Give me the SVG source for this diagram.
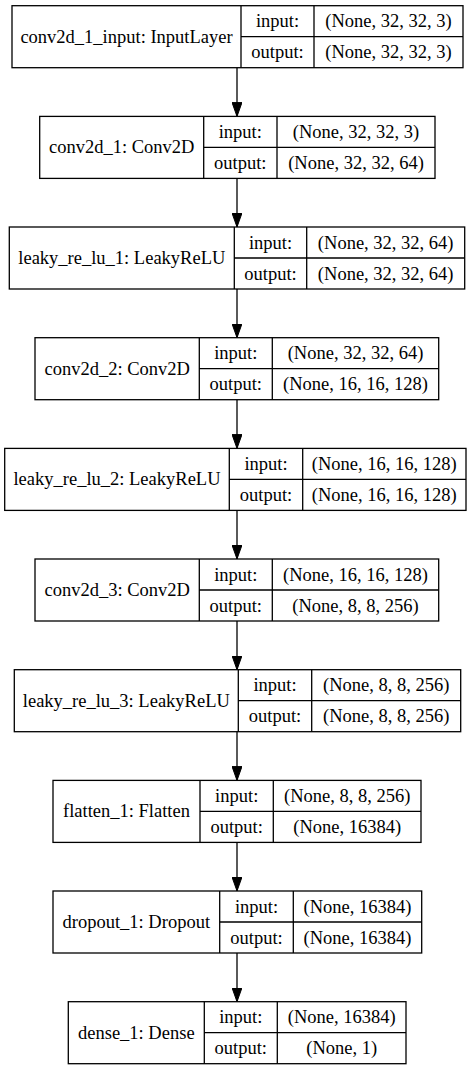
<svg xmlns="http://www.w3.org/2000/svg" width="475" height="1069" viewBox="0 0 475 1069">
  <style>
    .box { fill: #ffffff; stroke: #000000; stroke-width: 1.3; }
    .sep { stroke: #000000; stroke-width: 1.3; fill: none; }
    .lbl { font-size: 18.5px; fill: #000000; text-anchor: middle; }
    .edge { stroke: #000000; stroke-width: 1.3; fill: none; marker-end: url(#arrow); }
  </style>
  <defs>
    <marker id="arrow" viewBox="0 0 14 10" refX="14" refY="5" markerWidth="14" markerHeight="10" markerUnits="userSpaceOnUse" orient="auto">
      <path d="M0,0 L14,5 L0,10 Z" fill="#000000" stroke="#000000" stroke-width="1"/>
    </marker>
  </defs>
  <rect width="475" height="1069" fill="#ffffff"/>

  <!-- connectors -->
  <g id="edges">
    <line class="edge" x1="237" y1="67.7" x2="237" y2="116.4"/>
    <line class="edge" x1="237" y1="178.4" x2="237" y2="227"/>
    <line class="edge" x1="237" y1="289" x2="237" y2="337.7"/>
    <line class="edge" x1="237" y1="399.7" x2="237" y2="448.4"/>
    <line class="edge" x1="237" y1="510.4" x2="237" y2="559"/>
    <line class="edge" x1="237" y1="621" x2="237" y2="669.7"/>
    <line class="edge" x1="237" y1="731.7" x2="237" y2="780.4"/>
    <line class="edge" x1="237" y1="842.4" x2="237" y2="891"/>
    <line class="edge" x1="237" y1="953" x2="237" y2="1001.7"/>
  </g>

  <!-- layer nodes: name | input/output | shapes -->
  <g id="nodes" style="font-family: 'Liberation Serif', serif">
  <g id="conv2d_1_input">
    <rect class="box" x="12" y="5.7" width="451" height="62"/>
    <path class="sep" d="M241,5.7 V67.7 M314,5.7 V67.7 M241,36.7 H463"/>
    <text class="lbl" x="126.5" y="42.7">conv2d_1_input: InputLayer</text>
    <text class="lbl" x="277.5" y="27.2">input:</text>
    <text class="lbl" x="277.5" y="58.2">output:</text>
    <text class="lbl" x="388.5" y="27.2">(None, 32, 32, 3)</text>
    <text class="lbl" x="388.5" y="58.2">(None, 32, 32, 3)</text>
  </g>

  <g id="conv2d_1">
    <rect class="box" x="39.7" y="116.4" width="395.3" height="62"/>
    <path class="sep" d="M203.7,116.4 V178.4 M277,116.4 V178.4 M203.7,147.4 H435"/>
    <text class="lbl" x="121.7" y="153.4">conv2d_1: Conv2D</text>
    <text class="lbl" x="240.3" y="137.9">input:</text>
    <text class="lbl" x="240.3" y="168.9">output:</text>
    <text class="lbl" x="356" y="137.9">(None, 32, 32, 3)</text>
    <text class="lbl" x="356" y="168.9">(None, 32, 32, 64)</text>
  </g>

  <g id="leaky_re_lu_1">
    <rect class="box" x="9.3" y="227" width="455.4" height="62"/>
    <path class="sep" d="M234.3,227 V289 M306.7,227 V289 M234.3,258 H464.7"/>
    <text class="lbl" x="121.8" y="264">leaky_re_lu_1: LeakyReLU</text>
    <text class="lbl" x="270.5" y="248.5">input:</text>
    <text class="lbl" x="270.5" y="279.5">output:</text>
    <text class="lbl" x="385.7" y="248.5">(None, 32, 32, 64)</text>
    <text class="lbl" x="385.7" y="279.5">(None, 32, 32, 64)</text>
  </g>

  <g id="conv2d_2">
    <rect class="box" x="35" y="337.7" width="403.7" height="62"/>
    <path class="sep" d="M199.3,337.7 V399.7 M272.3,337.7 V399.7 M199.3,368.7 H438.7"/>
    <text class="lbl" x="117.2" y="374.7">conv2d_2: Conv2D</text>
    <text class="lbl" x="235.8" y="359.2">input:</text>
    <text class="lbl" x="235.8" y="390.2">output:</text>
    <text class="lbl" x="355.5" y="359.2">(None, 32, 32, 64)</text>
    <text class="lbl" x="355.5" y="390.2">(None, 16, 16, 128)</text>
  </g>

  <g id="leaky_re_lu_2">
    <rect class="box" x="4.7" y="448.4" width="461.3" height="62"/>
    <path class="sep" d="M229.3,448.4 V510.4 M302.7,448.4 V510.4 M229.3,479.4 H466"/>
    <text class="lbl" x="117" y="485.4">leaky_re_lu_2: LeakyReLU</text>
    <text class="lbl" x="266" y="469.9">input:</text>
    <text class="lbl" x="266" y="500.9">output:</text>
    <text class="lbl" x="384.3" y="469.9">(None, 16, 16, 128)</text>
    <text class="lbl" x="384.3" y="500.9">(None, 16, 16, 128)</text>
  </g>

  <g id="conv2d_3">
    <rect class="box" x="35" y="559" width="403.7" height="62"/>
    <path class="sep" d="M199.3,559 V621 M272.3,559 V621 M199.3,590 H438.7"/>
    <text class="lbl" x="117.2" y="596">conv2d_3: Conv2D</text>
    <text class="lbl" x="235.8" y="580.5">input:</text>
    <text class="lbl" x="235.8" y="611.5">output:</text>
    <text class="lbl" x="355.5" y="580.5">(None, 16, 16, 128)</text>
    <text class="lbl" x="355.5" y="611.5">(None, 8, 8, 256)</text>
  </g>

  <g id="leaky_re_lu_3">
    <rect class="box" x="14.3" y="669.7" width="446.4" height="62"/>
    <path class="sep" d="M238.3,669.7 V731.7 M311.7,669.7 V731.7 M238.3,700.7 H460.7"/>
    <text class="lbl" x="126.3" y="706.7">leaky_re_lu_3: LeakyReLU</text>
    <text class="lbl" x="275" y="691.2">input:</text>
    <text class="lbl" x="275" y="722.2">output:</text>
    <text class="lbl" x="386.2" y="691.2">(None, 8, 8, 256)</text>
    <text class="lbl" x="386.2" y="722.2">(None, 8, 8, 256)</text>
  </g>

  <g id="flatten_1">
    <rect class="box" x="53" y="780.4" width="368" height="62"/>
    <path class="sep" d="M200,780.4 V842.4 M273.3,780.4 V842.4 M200,811.4 H421"/>
    <text class="lbl" x="126.5" y="817.4">flatten_1: Flatten</text>
    <text class="lbl" x="236.7" y="801.9">input:</text>
    <text class="lbl" x="236.7" y="832.9">output:</text>
    <text class="lbl" x="347.2" y="801.9">(None, 8, 8, 256)</text>
    <text class="lbl" x="347.2" y="832.9">(None, 16384)</text>
  </g>

  <g id="dropout_1">
    <rect class="box" x="53" y="891" width="368.7" height="62"/>
    <path class="sep" d="M219.7,891 V953 M293.3,891 V953 M219.7,922 H421.7"/>
    <text class="lbl" x="136.3" y="928">dropout_1: Dropout</text>
    <text class="lbl" x="256.5" y="912.5">input:</text>
    <text class="lbl" x="256.5" y="943.5">output:</text>
    <text class="lbl" x="357.5" y="912.5">(None, 16384)</text>
    <text class="lbl" x="357.5" y="943.5">(None, 16384)</text>
  </g>

  <g id="dense_1">
    <rect class="box" x="68.3" y="1001.7" width="337.7" height="62"/>
    <path class="sep" d="M204.3,1001.7 V1063.7 M277.3,1001.7 V1063.7 M204.3,1032.7 H406"/>
    <text class="lbl" x="136.3" y="1038.7">dense_1: Dense</text>
    <text class="lbl" x="240.8" y="1023.2">input:</text>
    <text class="lbl" x="240.8" y="1054.2">output:</text>
    <text class="lbl" x="341.7" y="1023.2">(None, 16384)</text>
    <text class="lbl" x="341.7" y="1054.2">(None, 1)</text>
  </g>
  </g>
</svg>
